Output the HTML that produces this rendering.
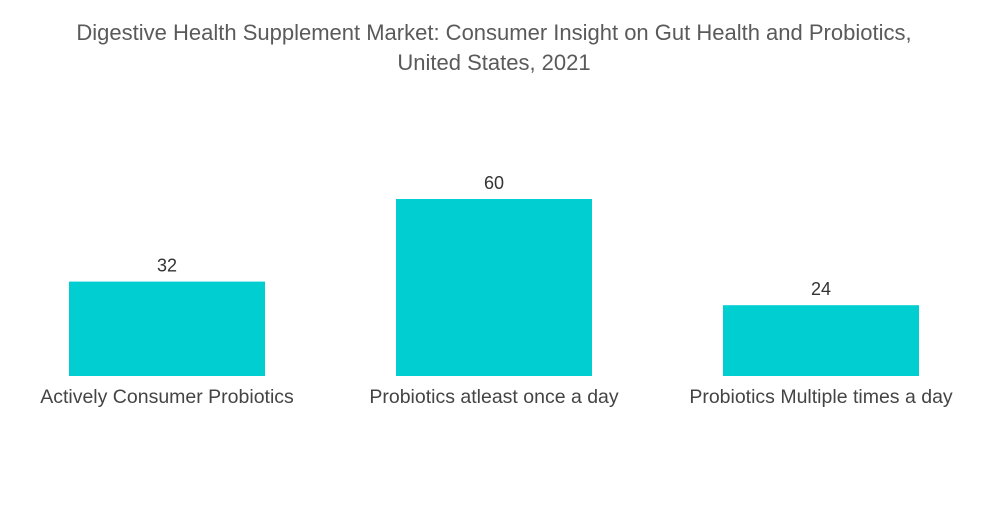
<!DOCTYPE html>
<html><head><meta charset="utf-8"><style>
body{margin:0;background:#fff;width:1000px;height:504px;overflow:hidden;font-family:"Liberation Sans",sans-serif}
</style></head><body>
<svg width="1000" height="504" id="chart">
<text x="494" y="40" text-anchor="middle" font-size="22" fill="#5a5a5a">Digestive Health Supplement Market: Consumer Insight on Gut Health and Probiotics,</text>
<text x="494" y="70" text-anchor="middle" font-size="22" fill="#5a5a5a">United States, 2021</text>
</svg>
<script>
const categories=["Actively Consumer Probiotics","Probiotics atleast once a day","Probiotics Multiple times a day"];
const values=[32,60,24];
const svg=document.getElementById('chart');
const ns="http://www.w3.org/2000/svg";
const base=376, scale=2.95, x0=167, step=327, bw=196;
function yPos(v){return base-v*scale;}
function xCenter(i){return x0+i*step;}
categories.forEach((c,i)=>{
  const r=document.createElementNS(ns,'rect');
  r.setAttribute('x',xCenter(i)-bw/2);r.setAttribute('y',yPos(values[i]));
  r.setAttribute('width',bw);r.setAttribute('height',base-yPos(values[i]));
  r.setAttribute('fill','#00ced1');
  
  
  svg.appendChild(r);
  const t=document.createElementNS(ns,'text');
  t.setAttribute('x',xCenter(i));t.setAttribute('y',yPos(values[i])-10);
  t.setAttribute('text-anchor','middle');t.setAttribute('font-size','18');t.setAttribute('fill','#333');
  t.textContent=values[i];
  
  
  svg.appendChild(t);
  const l=document.createElementNS(ns,'text');
  l.setAttribute('x',xCenter(i));l.setAttribute('y',403);
  l.setAttribute('text-anchor','middle');l.setAttribute('font-size','19.5');l.setAttribute('fill','#444');
  l.textContent=c;
  
  
  svg.appendChild(l);
});
</script>
</body></html>
